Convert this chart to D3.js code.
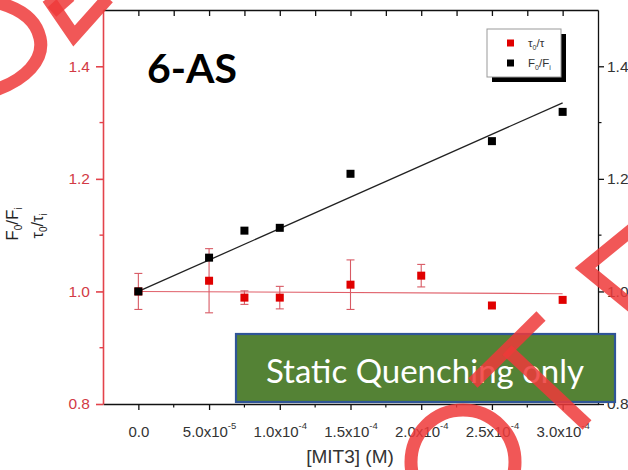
<!DOCTYPE html>
<html>
<head>
<meta charset="utf-8">
<script src="https://cdn.jsdelivr.net/npm/d3@7"></script>
<style>
  body { margin: 0; background: #fff; }
  svg { display: block; }
</style>
</head>
<body>
<div id="main"></div>
<script>
// data
const blueConc = [0, 5e-5, 7.5e-5, 1e-4, 1.5e-4, 2.5e-4, 3e-4];
const fRatio = [1.0, 1.06, 1.108, 1.113, 1.209, 1.267, 1.319];

const tauConc = [0, 5e-5, 7.5e-5, 1e-4, 1.5e-4, 2e-4, 2.5e-4, 3e-4];
const tauRatio = [1.0, 1.019, 0.989, 0.989, 1.012, 1.028, 0.975, 0.985];
const tauErr = [0.032, 0.057, 0.012, 0.02, 0.044, 0.02, 0, 0];

const fFitX = [0, 3e-4];
const fFitY = [1.0, 1.335];
const tauFitX = [0, 3e-4];
const tauFitY = [1.0, 0.996];

const xMajor = [0, 5e-5, 1e-4, 1.5e-4, 2e-4, 2.5e-4, 3e-4];
const xMinor = [2.5e-5, 7.5e-5, 1.25e-4, 1.75e-4, 2.25e-4, 2.75e-4];
const xMant = ["0.0", "5.0", "1.0", "1.5", "2.0", "2.5", "3.0"];
const xExp = ["", "-5", "-4", "-4", "-4", "-4", "-4"];
const yMajor = [0.8, 1.0, 1.2, 1.4];
const yMinor = [0.9, 1.1, 1.3];

const legendLabels = [["τ", "0", "/τ", ""], ["F", "0", "/F", "i"]];
const legendColors = ["#e00000", "#000"];

const ctx = { w: 628, h: 470 };
const margin = { left: 103, top: 10, right: 598, bottom: 404 };

const red = "#e3434b";
const font = "Liberation Sans, Arial, sans-serif";

function createChart(svg) {
    const x = d3.scaleLinear().domain([-2.5e-5, 3.25e-4]).range([margin.left, margin.right]);
    const y = d3.scaleLinear().domain([0.8, 1.5]).range([margin.bottom, margin.top]);

    // top axis, ticks pointing inward
    svg.append("g")
       .attr("transform", `translate(0,${margin.top})`)
       .call(d3.axisBottom(x).tickValues(xMajor.concat(xMinor)).tickSize(6).tickSizeOuter(0).tickFormat(""))
       .call(g => g.selectAll("line,path").attr("stroke", "#111").attr("stroke-width", 1.3));

    // bottom axis
    const gx = svg.append("g").attr("transform", `translate(0,${margin.bottom})`);
    gx.call(d3.axisBottom(x).tickValues(xMajor).tickSize(6).tickSizeOuter(0).tickPadding(9).tickFormat(""))
      .call(g => g.selectAll("line,path").attr("stroke", "#111").attr("stroke-width", 1.3));
    gx.selectAll(".tick text").each(function(d, i) {
        const t = d3.select(this)
            .attr("font-family", font)
            .attr("font-size", 15).attr("fill", "#333").attr("dy", "1.2em");
        if (xExp[i] === "") {
            t.text(xMant[i]);
        } else {
            t.append("tspan").text(xMant[i] + "x10");
            t.append("tspan").text(xExp[i]).attr("font-size", 9.5).attr("dy", "-0.8em");
        }
    });
    gx.append("g").selectAll("line").data(xMinor).join("line")
      .attr("x1", d => x(d)).attr("x2", d => x(d)).attr("y1", 0).attr("y2", 3.5)
      .attr("stroke", "#111").attr("stroke-width", 1.2);

    // right axis
    svg.append("g")
       .attr("transform", `translate(${margin.right},0)`)
       .call(d3.axisRight(y).tickValues(yMajor).tickSize(6).tickSizeOuter(0).tickPadding(3).tickFormat(d3.format(".1f")))
       .call(g => g.selectAll("line,path").attr("stroke", "#111").attr("stroke-width", 1.3))
       .call(g => g.selectAll("text").attr("font-family", font).attr("font-size", 15.5).attr("fill", "#333"))
       .append("g").selectAll("line").data(yMinor).join("line")
       .attr("x1", 0).attr("x2", 3.5).attr("y1", d => y(d)).attr("y2", d => y(d))
       .attr("stroke", "#111").attr("stroke-width", 1.2);

    // left axis (red)
    svg.append("g")
       .attr("transform", `translate(${margin.left},0)`)
       .call(d3.axisLeft(y).tickValues(yMajor).tickSize(7).tickSizeOuter(0).tickPadding(6).tickFormat(d3.format(".1f")))
       .call(g => g.selectAll("line,path").attr("stroke", red).attr("stroke-width", 1.6))
       .call(g => g.selectAll("text").attr("font-family", font).attr("font-size", 15.5).attr("fill", "#d23a45"))
       .append("g").selectAll("line").data(yMinor).join("line")
       .attr("x1", 0).attr("x2", -3.5).attr("y1", d => y(d)).attr("y2", d => y(d))
       .attr("stroke", red).attr("stroke-width", 1.4);

    // axis titles
    svg.append("text")
       .attr("transform", "translate(18,224) rotate(-90)")
       .attr("text-anchor", "middle")
       .attr("font-family", font).attr("font-size", 17).attr("fill", "#222")
       .call(t => {
           t.append("tspan").text("F");
           t.append("tspan").text("0").attr("font-size", 10).attr("dy", 4);
           t.append("tspan").text("/F").attr("dy", -4);
           t.append("tspan").text("i").attr("font-size", 10).attr("dy", 4);
       });
    svg.append("text")
       .attr("transform", "translate(43,226) rotate(-90)")
       .attr("text-anchor", "middle")
       .attr("font-family", font).attr("font-size", 16).attr("fill", "#222")
       .call(t => {
           t.append("tspan").text("τ");
           t.append("tspan").text("0").attr("font-size", 10).attr("dy", 4);
           t.append("tspan").text("/τ").attr("dy", -4);
           t.append("tspan").text("i").attr("font-size", 10).attr("dy", 4);
       });
    svg.append("text")
       .attr("x", 350).attr("y", 463)
       .attr("text-anchor", "middle")
       .attr("font-family", font).attr("font-size", 19).attr("fill", "#333")
       .text("[MIT3] (M)");

    // fit lines
    const line = d3.line().x(d => x(d[0])).y(d => y(d[1]));
    svg.append("path").datum(d3.zip(tauFitX, tauFitY)).attr("d", line)
       .attr("fill", "none").attr("stroke", "#e0606a").attr("stroke-width", 1.1);
    svg.append("path").datum(d3.zip(fFitX, fFitY)).attr("d", line)
       .attr("fill", "none").attr("stroke", "#222").attr("stroke-width", 1.3);

    // error bars
    const tau = tauConc.map((c, i) => ({ c: c, v: tauRatio[i], e: tauErr[i] })).filter(d => d.e > 0);
    const eb = svg.append("g").attr("stroke", "#d85a64").attr("stroke-width", 1.1);
    eb.selectAll(".v").data(tau).join("line")
      .attr("x1", d => x(d.c)).attr("x2", d => x(d.c))
      .attr("y1", d => y(d.v - d.e)).attr("y2", d => y(d.v + d.e));
    eb.selectAll(".top").data(tau).join("line")
      .attr("x1", d => x(d.c) - 4).attr("x2", d => x(d.c) + 4)
      .attr("y1", d => y(d.v + d.e)).attr("y2", d => y(d.v + d.e));
    eb.selectAll(".bot").data(tau).join("line")
      .attr("x1", d => x(d.c) - 4).attr("x2", d => x(d.c) + 4)
      .attr("y1", d => y(d.v - d.e)).attr("y2", d => y(d.v - d.e));

    // markers
    const s = 8;
    svg.append("g").selectAll("rect").data(d3.zip(tauConc, tauRatio)).join("rect")
       .attr("x", d => x(d[0]) - s / 2).attr("y", d => y(d[1]) - s / 2)
       .attr("width", s).attr("height", s).attr("fill", "#e00000");
    svg.append("g").selectAll("rect").data(d3.zip(blueConc, fRatio)).join("rect")
       .attr("x", d => x(d[0]) - s / 2).attr("y", d => y(d[1]) - s / 2)
       .attr("width", s).attr("height", s).attr("fill", "#000");

    // legend
    const lg = svg.append("g").attr("transform", "translate(487,29)");
    lg.append("rect").attr("x", 5).attr("y", 5).attr("width", 74).attr("height", 48).attr("fill", "#000");
    lg.append("rect").attr("width", 74).attr("height", 48).attr("fill", "#fff").attr("stroke", "#999").attr("stroke-width", 1);
    legendLabels.forEach((lab, i) => {
        const row = lg.append("g").attr("transform", `translate(0,${14 + i * 20})`);
        row.append("rect").attr("x", 20).attr("y", -3.5).attr("width", 7).attr("height", 7).attr("fill", legendColors[i]);
        const t = row.append("text").attr("x", 41).attr("y", 4)
            .attr("font-family", font).attr("font-size", 11.5).attr("fill", "#333");
        t.append("tspan").text(lab[0]);
        t.append("tspan").text(lab[1]).attr("font-size", 7).attr("dy", 3);
        t.append("tspan").text(lab[2]).attr("dy", -3);
        if (lab[3]) t.append("tspan").text(lab[3]).attr("font-size", 7).attr("dy", 3);
    });

    // title
    svg.append("text")
       .attr("x", 147).attr("y", 83)
       .attr("font-family", "Lato, 'Open Sans', sans-serif").attr("font-weight", "bold").attr("font-size", 41)
       .attr("fill", "#000")
       .text("6-AS");

    // green annotation box
    svg.append("rect")
       .attr("x", 236).attr("y", 334).attr("width", 379).attr("height", 68)
       .attr("fill", "#548235").attr("stroke", "#2f5597").attr("stroke-width", 2.2);
    svg.append("text")
       .attr("x", 425).attr("y", 383)
       .attr("text-anchor", "middle")
       .attr("font-family", "Lato, 'Open Sans', sans-serif").attr("font-size", 33)
       .attr("fill", "#fff")
       .text("Static Quenching only");

    // watermark strokes
    const wm = svg.append("g").attr("fill", "none").attr("stroke", "#ee3a3a")
       .attr("stroke-opacity", 0.85).attr("stroke-width", 13).attr("stroke-linejoin", "miter");
    wm.append("path").attr("d", "M-5,90 C25,80 45,60 40,38 C36,20 20,8 -5,2");
    wm.append("path").attr("d", "M48,-2 L74,36 L108,-2");
    wm.append("path").attr("d", "M52,12 L70,-4");
    wm.append("path").attr("d", "M640,223 L585,268 L640,313");
    wm.append("path").attr("d", "M473,383 L541,316");
    wm.append("path").attr("d", "M507,350 L587,425");
    wm.append("circle").attr("cx", 463).attr("cy", 462).attr("r", 52);
}

const svg = d3.select("#main").append("svg")
    .attr("width", ctx.w)
    .attr("height", ctx.h);
createChart(svg);
</script>
</body>
</html>
